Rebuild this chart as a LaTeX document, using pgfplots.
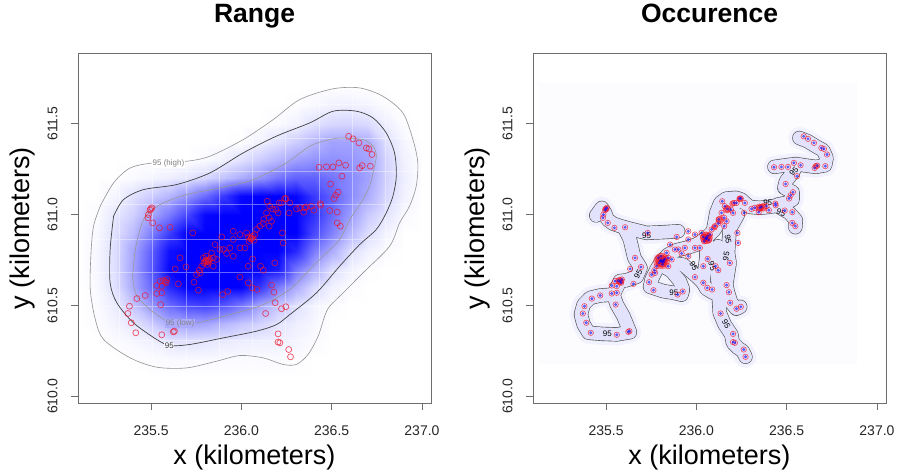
\documentclass[border=0pt]{standalone}
\usepackage{fontspec}
\setmainfont{Liberation Sans}
\usepackage{pgfplots}
\usepackage{pgfplotstable}
\pgfplotsset{compat=1.18}

\definecolor{ptred}{RGB}{238,20,40}
\definecolor{trackfill}{RGB}{226,226,253}
\definecolor{trackhalo}{RGB}{242,242,254}
\definecolor{trackline}{RGB}{85,85,85}
\definecolor{boxgray}{RGB}{110,110,110}

% relocation points (km)
\pgfplotstableread{
x y
236.594 611.430
236.618 611.416
236.651 611.394
236.692 611.366
236.706 611.361
236.723 611.330
236.430 611.260
236.471 611.262
236.507 611.262
236.540 611.284
236.577 611.271
236.655 611.256
236.669 611.269
236.714 611.266
236.557 611.211
236.494 611.168
236.535 611.123
236.522 611.106
236.513 611.088
236.489 611.022
236.531 611.013
236.531 610.954
236.548 610.936
236.437 611.060
236.439 611.051
236.240 611.088
236.246 611.088
236.209 611.064
236.172 611.031
236.191 611.027
236.143 611.073
236.139 611.009
236.124 610.973
236.121 610.951
236.154 610.982
236.268 611.064
236.305 611.031
236.323 611.037
236.351 611.037
236.360 611.042
236.388 611.046
236.401 611.024
236.345 611.013
236.264 611.009
236.227 610.899
236.231 610.844
236.185 610.734
236.038 610.877
236.051 610.866
236.062 610.881
236.069 610.859
236.043 610.853
236.075 610.890
236.029 610.899
236.084 610.918
236.102 610.936
235.992 610.890
235.955 610.863
235.936 610.817
235.900 610.808
235.918 610.786
235.881 610.808
235.854 610.835
235.992 610.817
236.062 610.756
236.038 610.716
236.121 610.694
236.106 610.716
235.992 610.656
236.038 610.625
236.060 610.597
236.087 610.588
235.896 610.560
235.924 610.577
235.730 610.899
235.605 610.930
235.546 610.927
235.509 610.954
235.504 611.037
235.498 611.031
235.494 611.024
235.485 611.000
235.482 610.982
235.789 610.762
235.804 610.749
235.817 610.738
235.826 610.756
235.793 610.734
235.812 610.725
235.780 610.716
235.767 610.694
235.752 610.670
235.738 610.628
235.762 610.584
235.771 610.679
235.844 610.716
235.863 610.753
235.835 610.789
235.804 610.771
235.660 610.762
235.693 610.712
235.633 610.701
235.550 610.634
235.568 610.637
235.587 610.643
235.583 610.625
235.559 610.606
235.651 610.619
235.531 610.566
235.559 610.570
235.531 610.610
235.467 610.555
235.421 610.538
235.380 610.496
235.371 610.456
235.390 610.405
235.415 610.350
235.553 610.505
235.559 610.339
235.623 610.355
235.629 610.359
236.167 610.612
236.180 610.573
236.187 610.515
236.134 610.456
236.222 610.482
236.246 610.493
236.203 610.344
236.203 610.299
236.213 610.295
236.262 610.258
236.272 610.218
236.154 610.936
236.167 610.963
236.203 611.009
236.157 611.046
236.222 611.064
235.955 610.908
236.019 610.817
235.891 610.877
235.955 610.771
235.844 610.762
235.815 610.745
235.808 610.740
235.820 610.750
235.800 610.745
236.055 610.872
236.058 610.868
235.578 610.632
}\relocs

% occurrence track segments
\newcommand{\tracks}[1]{%
\addplot[#1] coordinates {(236.570,611.421) (236.616,611.403) (236.662,611.375) (236.702,611.353) (236.721,611.311) (236.713,611.271) (236.662,611.262) (236.607,611.269) (236.551,611.278) (236.496,611.271) (236.432,611.262)};
\addplot[#1] coordinates {(236.551,611.266) (236.533,611.229) (236.496,611.183) (236.487,611.147) (236.533,611.123) (236.533,611.082) (236.496,611.064) (236.450,611.055)};
\addplot[#1] coordinates {(236.450,611.046) (236.515,611.009) (236.551,610.969) (236.548,610.930)};
\addplot[#1] coordinates {(236.478,611.055) (236.404,611.042) (236.349,611.037) (236.294,611.042) (236.248,611.082) (236.202,611.055) (236.165,611.009) (236.132,610.973) (236.101,610.918) (236.055,610.872) (236.000,610.835) (235.945,610.817) (235.890,610.804) (235.844,610.780) (235.807,610.744) (235.779,610.698) (235.752,610.643) (235.743,610.603) (235.816,610.579) (235.871,610.570) (235.917,610.560)};
\addplot[#1] coordinates {(235.816,610.716) (235.862,610.689) (235.908,610.634) (235.926,610.588) (235.917,610.560)};
\addplot[#1] coordinates {(235.445,610.995) (235.476,611.037) (235.494,611.009) (235.507,610.973) (235.540,610.949) (235.599,610.930)};
\addplot[#1] coordinates {(235.599,610.930) (235.724,610.899) (235.816,610.903) (235.899,610.908)};
\addplot[#1] coordinates {(235.599,610.930) (235.632,610.863) (235.656,610.762) (235.691,610.707) (235.669,610.658) (235.614,610.639) (235.577,610.634)};
\addplot[#1] coordinates {(235.577,610.634) (235.540,610.560) (235.467,610.555) (235.412,610.542) (235.375,610.505) (235.360,610.451) (235.375,610.396) (235.403,610.350) (235.476,610.344) (235.559,610.341) (235.632,610.353) (235.596,610.441) (235.559,610.505) (235.540,610.560)};
\addplot[#1] coordinates {(236.055,610.872) (236.055,610.762) (236.046,610.698) (236.037,610.625) (236.055,610.592) (236.092,610.570)};
\addplot[#1] coordinates {(236.230,611.000) (236.184,610.918) (236.175,610.789) (236.184,610.734) (236.165,610.615) (236.175,610.570) (236.193,610.515) (236.221,610.482) (236.243,610.493)};
\addplot[#1] coordinates {(236.119,610.826) (236.110,610.734) (236.119,610.625) (236.129,610.460) (236.156,610.396) (236.193,610.341) (236.202,610.295) (236.230,610.267) (236.257,610.249) (236.272,610.218)};
\addplot[#1] coordinates {(236.092,610.908) (236.110,611.009) (236.132,611.064) (236.165,611.088) (236.221,611.092) (236.248,611.082)};
\addplot[#1] coordinates {(235.844,610.734) (235.926,610.725) (236.000,610.661) (236.037,610.625)};
}

\tikzset{ctr/.style={font=\fontsize{8}{8}\selectfont, inner sep=0.6pt}}

\pgfplotsset{
  panel/.style={
    scale only axis, width=353pt, height=350pt,
    xmin=235.095, xmax=237.05, ymin=609.964, ymax=611.888,
    axis line style={boxgray, line width=0.8pt},
    tick style={boxgray, line width=0.8pt},
    tick align=outside, tick pos=left, major tick length=7pt,
    xtick={235.5,236,236.5,237}, xticklabels={235.5,236.0,236.5,237.0},
    ytick={610,610.5,611,611.5}, yticklabels={610.0,610.5,611.0,611.5},
    ticklabel style={font=\fontsize{14}{14}\selectfont, text=black!85},
    yticklabel style={rotate=90, anchor=south},
    xticklabel shift=12pt, yticklabel shift=10pt,
    xlabel={x (kilometers)}, ylabel={y (kilometers)},
    label style={font=\fontsize{27}{27}\selectfont},
    xlabel style={at={(axis description cs:0.5,-0.177)}, anchor=base},
    ylabel style={at={(axis description cs:-0.136,0.5)}, anchor=base, rotate=0},
    title style={font=\bfseries\fontsize{26.5}{26.5}\selectfont,
      at={(axis description cs:0.5,1.071)}, anchor=base},
    anchor=south west,
  },
}

\begin{document}
\begin{tikzpicture}
\path[use as bounding box] (-78pt,-69pt) rectangle (822pt,403pt);

% ---------- Range: density surface ----------
\begin{axis}[at={(0pt,0pt)}, anchor=south west, scale only axis,
  width=353pt, height=350pt,
  xmin=235.095, xmax=237.05, ymin=609.964, ymax=611.888, zmin=0, zmax=1,
  view={0}{90}, hide axis,
  colormap={wb}{rgb255=(255,255,255) rgb255=(0,0,255)},
  point meta min=0, point meta max=0.77]
\addplot3[surf, shader=interp, mesh/rows=17, mesh/cols=20] coordinates {
(235.1,610.1,0) (235.2,610.1,0) (235.3,610.1,0) (235.4,610.1,0) (235.5,610.1,0) (235.6,610.1,0) (235.7,610.1,0) (235.8,610.1,0) (235.9,610.1,0) (236.0,610.1,0) (236.1,610.1,0) (236.2,610.1,0) (236.3,610.1,0) (236.4,610.1,0) (236.5,610.1,0) (236.6,610.1,0) (236.7,610.1,0) (236.8,610.1,0) (236.9,610.1,0) (237.0,610.1,0)
(235.1,610.2,0) (235.2,610.2,0) (235.3,610.2,0) (235.4,610.2,.003) (235.5,610.2,.012) (235.6,610.2,.015) (235.7,610.2,.016) (235.8,610.2,.015) (235.9,610.2,.013) (236.0,610.2,.012) (236.1,610.2,.012) (236.2,610.2,.014) (236.3,610.2,.008) (236.4,610.2,0) (236.5,610.2,0) (236.6,610.2,0) (236.7,610.2,0) (236.8,610.2,0) (236.9,610.2,0) (237.0,610.2,0)
(235.1,610.3,0) (235.2,610.3,0) (235.3,610.3,.012) (235.4,610.3,.025) (235.5,610.3,.045) (235.6,610.3,.08) (235.7,610.3,.085) (235.8,610.3,.075) (235.9,610.3,.06) (236.0,610.3,.05) (236.1,610.3,.045) (236.2,610.3,.04) (236.3,610.3,.03) (236.4,610.3,.012) (236.5,610.3,0) (236.6,610.3,0) (236.7,610.3,0) (236.8,610.3,0) (236.9,610.3,0) (237.0,610.3,0)
(235.1,610.4,0) (235.2,610.4,.01) (235.3,610.4,.035) (235.4,610.4,.075) (235.5,610.4,.15) (235.6,610.4,.25) (235.7,610.4,.28) (235.8,610.4,.27) (235.9,610.4,.22) (236.0,610.4,.17) (236.1,610.4,.13) (236.2,610.4,.08) (236.3,610.4,.05) (236.4,610.4,.025) (236.5,610.4,0) (236.6,610.4,0) (236.7,610.4,0) (236.8,610.4,0) (236.9,610.4,0) (237.0,610.4,0)
(235.1,610.5,0) (235.2,610.5,.015) (235.3,610.5,.06) (235.4,610.5,.18) (235.5,610.5,.32) (235.6,610.5,.45) (235.7,610.5,.55) (235.8,610.5,.58) (235.9,610.5,.52) (236.0,610.5,.42) (236.1,610.5,.28) (236.2,610.5,.17) (236.3,610.5,.09) (236.4,610.5,.035) (236.5,610.5,.008) (236.6,610.5,0) (236.7,610.5,0) (236.8,610.5,0) (236.9,610.5,0) (237.0,610.5,0)
(235.1,610.6,0) (235.2,610.6,.02) (235.3,610.6,.09) (235.4,610.6,.26) (235.5,610.6,.45) (235.6,610.6,.65) (235.7,610.6,.85) (235.8,610.6,1) (235.9,610.6,1) (236.0,610.6,.85) (236.1,610.6,.62) (236.2,610.6,.4) (236.3,610.6,.25) (236.4,610.6,.11) (236.5,610.6,.04) (236.6,610.6,.01) (236.7,610.6,0) (236.8,610.6,0) (236.9,610.6,0) (237.0,610.6,0)
(235.1,610.7,0) (235.2,610.7,.025) (235.3,610.7,.1) (235.4,610.7,.28) (235.5,610.7,.5) (235.6,610.7,.75) (235.7,610.7,1) (235.8,610.7,1) (235.9,610.7,1) (236.0,610.7,1) (236.1,610.7,.95) (236.2,610.7,.7) (236.3,610.7,.42) (236.4,610.7,.25) (236.5,610.7,.1) (236.6,610.7,.04) (236.7,610.7,.005) (236.8,610.7,0) (236.9,610.7,0) (237.0,610.7,0)
(235.1,610.8,0) (235.2,610.8,.025) (235.3,610.8,.1) (235.4,610.8,.27) (235.5,610.8,.48) (235.6,610.8,.72) (235.7,610.8,.95) (235.8,610.8,1) (235.9,610.8,1) (236.0,610.8,1) (236.1,610.8,1) (236.2,610.8,.92) (236.3,610.8,.65) (236.4,610.8,.4) (236.5,610.8,.25) (236.6,610.8,.1) (236.7,610.8,.04) (236.8,610.8,.01) (236.9,610.8,0) (237.0,610.8,0)
(235.1,610.9,0) (235.2,610.9,.02) (235.3,610.9,.09) (235.4,610.9,.2) (235.5,610.9,.38) (235.6,610.9,.58) (235.7,610.9,.82) (235.8,610.9,1) (235.9,610.9,1) (236.0,610.9,1) (236.1,610.9,1) (236.2,610.9,1) (236.3,610.9,.8) (236.4,610.9,.55) (236.5,610.9,.38) (236.6,610.9,.22) (236.7,610.9,.1) (236.8,610.9,.035) (236.9,610.9,0) (237.0,610.9,0)
(235.1,611.0,0) (235.2,611.0,.012) (235.3,611.0,.07) (235.4,611.0,.14) (235.5,611.0,.26) (235.6,611.0,.4) (235.7,611.0,.56) (235.8,611.0,.75) (235.9,611.0,.93) (236.0,611.0,1) (236.1,611.0,1) (236.2,611.0,1) (236.3,611.0,.85) (236.4,611.0,.62) (236.5,611.0,.45) (236.6,611.0,.3) (236.7,611.0,.16) (236.8,611.0,.08) (236.9,611.0,.015) (237.0,611.0,0)
(235.1,611.1,0) (235.2,611.1,0) (235.3,611.1,.03) (235.4,611.1,.09) (235.5,611.1,.15) (235.6,611.1,.22) (235.7,611.1,.32) (235.8,611.1,.45) (235.9,611.1,.6) (236.0,611.1,.75) (236.1,611.1,.85) (236.2,611.1,.85) (236.3,611.1,.75) (236.4,611.1,.6) (236.5,611.1,.48) (236.6,611.1,.36) (236.7,611.1,.25) (236.8,611.1,.12) (236.9,611.1,.04) (237.0,611.1,0)
(235.1,611.2,0) (235.2,611.2,0) (235.3,611.2,0) (235.4,611.2,.015) (235.5,611.2,.03) (235.6,611.2,.05) (235.7,611.2,.075) (235.8,611.2,.12) (235.9,611.2,.18) (236.0,611.2,.25) (236.1,611.2,.32) (236.2,611.2,.42) (236.3,611.2,.48) (236.4,611.2,.48) (236.5,611.2,.42) (236.6,611.2,.36) (236.7,611.2,.28) (236.8,611.2,.14) (236.9,611.2,.05) (237.0,611.2,.005)
(235.1,611.3,0) (235.2,611.3,0) (235.3,611.3,0) (235.4,611.3,0) (235.5,611.3,0) (235.6,611.3,0) (235.7,611.3,0) (235.8,611.3,.015) (235.9,611.3,.04) (236.0,611.3,.09) (236.1,611.3,.15) (236.2,611.3,.22) (236.3,611.3,.29) (236.4,611.3,.33) (236.5,611.3,.34) (236.6,611.3,.32) (236.7,611.3,.28) (236.8,611.3,.13) (236.9,611.3,.04) (237.0,611.3,.005)
(235.1,611.4,0) (235.2,611.4,0) (235.3,611.4,0) (235.4,611.4,0) (235.5,611.4,0) (235.6,611.4,0) (235.7,611.4,0) (235.8,611.4,0) (235.9,611.4,0) (236.0,611.4,.005) (236.1,611.4,.04) (236.2,611.4,.09) (236.3,611.4,.15) (236.4,611.4,.22) (236.5,611.4,.28) (236.6,611.4,.28) (236.7,611.4,.25) (236.8,611.4,.1) (236.9,611.4,.03) (237.0,611.4,0)
(235.1,611.5,0) (235.2,611.5,0) (235.3,611.5,0) (235.4,611.5,0) (235.5,611.5,0) (235.6,611.5,0) (235.7,611.5,0) (235.8,611.5,0) (235.9,611.5,0) (236.0,611.5,0) (236.1,611.5,0) (236.2,611.5,.015) (236.3,611.5,.04) (236.4,611.5,.09) (236.5,611.5,.12) (236.6,611.5,.13) (236.7,611.5,.11) (236.8,611.5,.05) (236.9,611.5,.01) (237.0,611.5,0)
(235.1,611.6,0) (235.2,611.6,0) (235.3,611.6,0) (235.4,611.6,0) (235.5,611.6,0) (235.6,611.6,0) (235.7,611.6,0) (235.8,611.6,0) (235.9,611.6,0) (236.0,611.6,0) (236.1,611.6,0) (236.2,611.6,0) (236.3,611.6,.005) (236.4,611.6,.02) (236.5,611.6,.04) (236.6,611.6,.045) (236.7,611.6,.035) (236.8,611.6,.012) (236.9,611.6,0) (237.0,611.6,0)
(235.1,611.7,0) (235.2,611.7,0) (235.3,611.7,0) (235.4,611.7,0) (235.5,611.7,0) (235.6,611.7,0) (235.7,611.7,0) (235.8,611.7,0) (235.9,611.7,0) (236.0,611.7,0) (236.1,611.7,0) (236.2,611.7,0) (236.3,611.7,0) (236.4,611.7,0) (236.5,611.7,.005) (236.6,611.7,.005) (236.7,611.7,0) (236.8,611.7,0) (236.9,611.7,0) (237.0,611.7,0)
};
\end{axis}

% ---------- Range: contours, points, axes ----------
\begin{axis}[panel, at={(0pt,0pt)}, title={Range}]
% raster seams
\addplot[white, opacity=0.4, line width=0.8pt, unbounded coords=jump] coordinates {
(235.141,610.12) (235.141,611.75) (nan,nan) (235.325,610.12) (235.325,611.75) (nan,nan)
(235.509,610.12) (235.509,611.75) (nan,nan) (235.693,610.12) (235.693,611.75) (nan,nan)
(235.877,610.12) (235.877,611.75) (nan,nan) (236.062,610.12) (236.062,611.75) (nan,nan)
(236.246,610.12) (236.246,611.75) (nan,nan) (236.430,610.12) (236.430,611.75) (nan,nan)
(236.614,610.12) (236.614,611.75) (nan,nan) (236.798,610.12) (236.798,611.75) (nan,nan)
(236.982,610.12) (236.982,611.75) (nan,nan)
(235.12,610.310) (236.99,610.310) (nan,nan) (235.12,610.496) (236.99,610.496) (nan,nan)
(235.12,610.680) (236.99,610.680) (nan,nan) (235.12,610.866) (236.99,610.866) (nan,nan)
(235.12,611.055) (236.99,611.055) (nan,nan) (235.12,611.238) (236.99,611.238) (nan,nan)
(235.12,611.421) (236.99,611.421) (nan,nan) (235.12,611.605) (236.99,611.605)
};
% 95 (high)
\addplot[smooth, gray!85, line width=0.6pt] coordinates {
(235.218,611.046) (235.292,611.174) (235.384,611.256) (235.513,611.284) (235.697,611.293) (235.826,611.321) (236.010,611.412) (236.176,611.522) (236.323,611.632) (236.507,611.691) (236.655,611.696) (236.784,611.650) (236.894,611.559) (236.950,611.412) (236.977,611.284) (236.968,611.156) (236.931,611.046) (236.876,610.954) (236.821,610.826) (236.673,610.679) (236.563,610.569) (236.489,610.496) (236.461,610.441) (236.425,610.331) (236.369,610.231) (236.305,610.176) (236.231,610.176) (236.121,610.212) (235.992,610.225) (235.863,610.194) (235.697,610.157) (235.531,610.161) (235.384,610.212) (235.237,610.313) (235.191,610.423) (235.163,610.588) (235.167,610.789) (235.181,610.936) (235.218,611.046)};
% 95
\addplot[smooth, black!75, line width=0.7pt] coordinates {
(235.292,610.991) (235.273,610.808) (235.273,610.624) (235.310,610.515) (235.402,610.405) (235.531,610.313) (235.605,610.280) (235.716,610.286) (235.900,610.322) (236.084,610.359) (236.194,610.395) (236.268,610.450) (236.415,610.569) (236.544,610.716) (236.655,610.835) (236.747,610.918) (236.802,611.009) (236.839,611.101) (236.858,611.211) (236.848,611.339) (236.802,611.449) (236.729,611.531) (236.637,611.568) (236.508,611.568) (236.379,611.504) (236.194,611.431) (236.010,611.339) (235.826,611.229) (235.642,611.165) (235.458,611.137) (235.347,611.082) (235.292,610.991)};
% 95 (low)
\addplot[smooth, gray!80, line width=0.6pt] coordinates {
(235.412,610.808) (235.402,610.716) (235.399,610.643) (235.421,610.551) (235.494,610.478) (235.587,610.414) (235.660,610.395) (235.771,610.408) (235.937,610.450) (236.121,610.505) (236.268,610.588) (236.360,610.679) (236.452,610.771) (236.544,610.863) (236.600,610.973) (236.637,611.027) (236.673,611.082) (236.710,611.156) (236.729,611.229) (236.747,611.321) (236.729,611.376) (236.673,611.412) (236.563,611.421) (236.489,611.412) (236.379,611.376) (236.250,611.284) (236.065,611.192) (235.881,611.147) (235.697,611.110) (235.550,611.055) (235.458,610.973) (235.412,610.808)};
\node[ctr, text=gray, fill=white] at (axis cs:235.596,611.280) {95 (high)};
\node[ctr, text=gray, fill={rgb,255:red,170;green,170;blue,255}] at (axis cs:235.660,610.402) {95 (low)};
\node[ctr, text=black!80, fill={rgb,255:red,245;green,245;blue,255}] at (axis cs:235.601,610.280) {95};
\addplot[only marks, mark=o, mark size=3pt, ptred, opacity=0.7, line width=0.75pt] table[x=x, y=y] {\relocs};
\end{axis}

% ---------- Occurence ----------
\begin{axis}[panel, at={(455pt,0pt)}, title={Occurence}]
\addplot[fill={rgb,255:red,252;green,252;blue,255}, draw=none] coordinates {(235.125,610.176) (236.890,610.176) (236.890,611.731) (235.125,611.731)} -- cycle;
\tracks{trackhalo, line width=22pt, line cap=round, line join=round}
\tracks{trackline, line width=14.3pt, line cap=round, line join=round}
\tracks{trackfill, line width=13pt, line cap=round, line join=round}
% dense cores
\addplot[only marks, mark=*, mark size=8pt, red, opacity=0.35, draw=none] coordinates {(235.807,610.744)};
\addplot[only marks, mark=*, mark size=6pt, red, opacity=0.55, draw=none] coordinates {(235.807,610.744) (236.055,610.872)};
\addplot[only marks, mark=*, mark size=4pt, red, opacity=0.5, draw=none] coordinates {(235.577,610.634) (236.349,611.037) (236.13,610.97) (236.17,611.03) (236.37,611.04) (236.055,610.872)};
\addplot[only marks, mark=*, mark size=3pt, red, opacity=0.45, draw=none] coordinates {(236.24,611.085) (236.662,611.266) (235.50,611.03) (236.10,610.93) (236.20,611.06)};
\addplot[only marks, mark=o, mark size=2.7pt, ptred, opacity=0.75, line width=0.6pt] table[x=x, y=y] {\relocs};
\addplot[only marks, mark=*, mark size=1.3pt, blue, opacity=0.5, draw=none] table[x=x, y=y] {\relocs};
\node[ctr] at (axis cs:235.724,610.881) {95};
\node[ctr] at (axis cs:235.507,610.346) {95};
\node[ctr] at (axis cs:235.875,610.570) {95};
\node[ctr, rotate=60] at (axis cs:235.678,610.670) {95};
\node[ctr, rotate=-60] at (axis cs:235.985,610.716) {95};
\node[ctr, rotate=-70] at (axis cs:236.088,610.716) {95};
\node[ctr, rotate=-80] at (axis cs:236.175,610.863) {95};
\node[ctr, rotate=80] at (axis cs:236.165,610.771) {95};
\node[ctr, rotate=-60] at (axis cs:236.165,610.396) {95};
\node[ctr] at (axis cs:236.395,611.064) {95};
\node[ctr, rotate=-20] at (axis cs:236.469,611.009) {95};
\node[ctr, rotate=45] at (axis cs:236.540,611.235) {95};
\end{axis}
\end{tikzpicture}
\end{document}
